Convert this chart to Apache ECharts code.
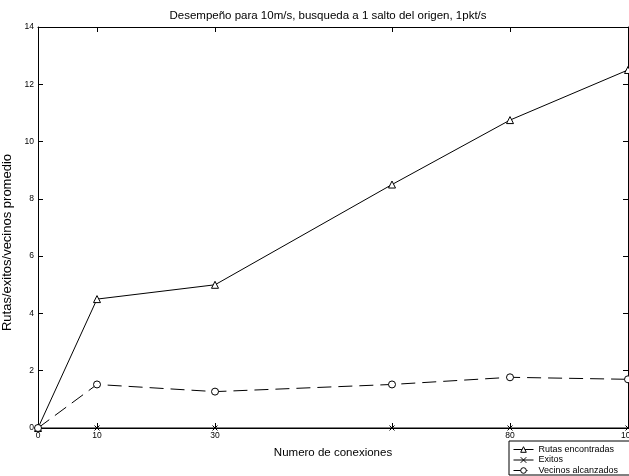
<!DOCTYPE html>
<html><head><meta charset="utf-8">
<script src="https://cdn.jsdelivr.net/npm/echarts@6/dist/echarts.min.js"></script>
<style>html,body{margin:0;padding:0;background:#fff}#c{width:629px;height:476px}</style>
</head><body><div id="c"></div>
<script>
var conexiones = [0, 10, 30, 60, 80, 100];
var rutas = [0, 4.5, 5.0, 8.5, 10.75, 12.5];
var exitos = [0, 0, 0, 0, 0, 0];
var vecinos = [0, 1.52, 1.27, 1.52, 1.77, 1.7];
var xTicks = [0, 10, 30, 60, 80, 100];
var xLabels = [0, 10, 30, 80, 100];

function pairs(ys){ return conexiones.map(function(x,i){ return [x, ys[i]]; }); }
var font = 'Liberation Sans, Arial, sans-serif';
var chart = echarts.init(document.getElementById('c'));
var xBase = {
  type:'value', min:0, max:100,
  axisLine:{show:true, onZero:false, lineStyle:{color:'#000', width:1}},
  axisTick:{show:true, inside:true, length:5, customValues:xTicks, lineStyle:{color:'#000'}},
  splitLine:{show:false}
};
var yBase = {
  type:'value', min:0, max:14, interval:2,
  axisLine:{show:true, onZero:false, lineStyle:{color:'#000', width:1}},
  axisTick:{show:true, inside:true, length:5, lineStyle:{color:'#000'}},
  splitLine:{show:false}
};
chart.setOption({
  animation:false,
  backgroundColor:'#fff',
  title:{text:'Desempeño para 10m/s, busqueda a 1 salto del origen, 1pkt/s', left:323, top:5, textAlign:'center',
    textStyle:{fontFamily:font, fontSize:11.5, fontWeight:'normal', color:'#000'}},
  grid:{left:38, right:1, top:27, bottom:48, containLabel:false, outerBoundsMode:'none'},
  legend:{orient:'vertical', left:509, top:441, padding:[4,20,0,4], itemGap:1.5, itemWidth:20, itemHeight:7,
    backgroundColor:'#fff', borderColor:'#000', borderWidth:1,
    itemStyle:{borderWidth:1}, lineStyle:{width:1},
    textStyle:{fontFamily:font, fontSize:9, lineHeight:9, color:'#000'},
    data:['Rutas encontradas','Exitos','Vecinos alcanzados']},
  xAxis:[
    Object.assign({}, xBase, {position:'bottom', name:'Numero de conexiones', nameLocation:'middle', nameGap:19,
      nameTextStyle:{fontFamily:font, fontSize:11.5, color:'#000'},
      axisLabel:{show:true, customValues:xLabels, fontFamily:font, fontSize:8.5, color:'#000', margin:3}}),
    Object.assign({}, xBase, {position:'top', axisLabel:{show:false}})
  ],
  yAxis:[
    Object.assign({}, yBase, {position:'left', name:'Rutas/exitos/vecinos promedio', nameLocation:'middle', nameGap:20,
      nameTextStyle:{fontFamily:font, fontSize:13, color:'#000', padding:[0,30,0,0]},
      axisLabel:{fontFamily:font, fontSize:8.5, color:'#000', margin:4}}),
    Object.assign({}, yBase, {position:'right', axisLabel:{show:false}})
  ],
  series:[
    {name:'Rutas encontradas', type:'line', data:pairs(rutas), symbol:'triangle', symbolSize:7,
      lineStyle:{color:'#000', width:1}, itemStyle:{color:'#fff', borderColor:'#000', borderWidth:1}},
    {name:'Exitos', type:'line', data:pairs(exitos), symbol:'path://M0,0L10,10M10,0L0,10', symbolSize:5,
      lineStyle:{color:'#000', width:1}, itemStyle:{color:'#000', borderColor:'#000', borderWidth:1}},
    {name:'Vecinos alcanzados', type:'line', data:pairs(vecinos), symbol:'circle', symbolSize:7,
      lineStyle:{color:'#000', width:1, type:[14,7]}, itemStyle:{color:'#fff', borderColor:'#000', borderWidth:1}}
  ]
});
</script></body></html>
